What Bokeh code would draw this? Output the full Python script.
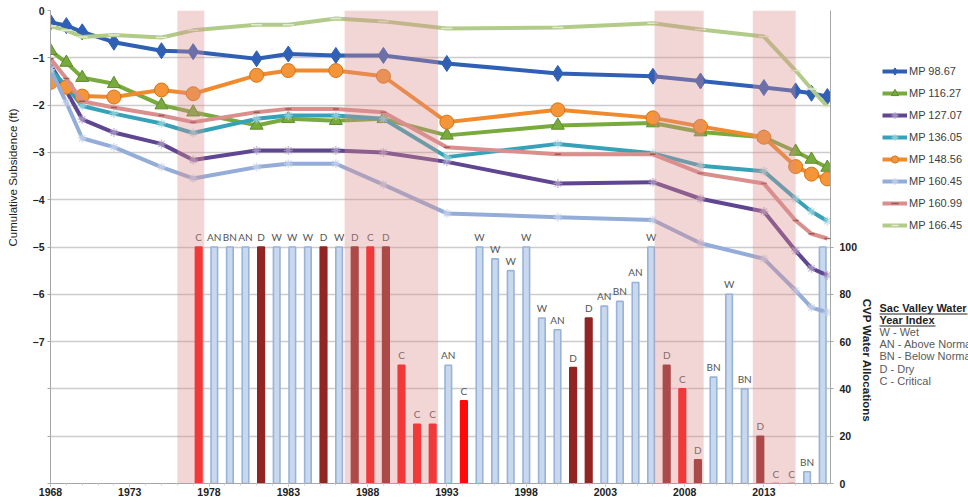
import numpy as np
from bokeh.plotting import figure
from bokeh.layouts import row
from bokeh.models import (Range1d, LinearAxis, FixedTicker, Legend, LegendItem,
                          Label, ColumnDataSource)
from bokeh.core.properties import value
from bokeh.embed import file_html
from bokeh.resources import INLINE

# ---------------- data ----------------
survey_years = [1968, 1969, 1970, 1972, 1975, 1977, 1981, 1983, 1986, 1989,
                1993, 2000, 2006, 2009, 2013, 2015, 2016, 2017]

mp_98_67 = [-0.25, -0.32, -0.45, -0.67, -0.85, -0.87, -1.02, -0.92, -0.95, -0.95,
            -1.12, -1.33, -1.39, -1.49, -1.63, -1.70, -1.75, -1.82]
mp_116_27 = [-0.85, -1.10, -1.42, -1.55, -2.00, -2.15, -2.43, -2.29, -2.33, -2.29,
             -2.64, -2.43, -2.38, -2.57, -2.68, -2.98, -3.15, -3.32]
mp_127_07 = [-1.15, -1.70, -2.30, -2.58, -2.82, -3.16, -2.96, -2.96, -2.96, -3.00,
             -3.20, -3.66, -3.63, -3.98, -4.25, -5.08, -5.45, -5.60]
mp_136_05 = [-1.25, -1.60, -2.02, -2.18, -2.39, -2.59, -2.29, -2.22, -2.22, -2.29,
             -3.10, -2.82, -3.02, -3.28, -3.40, -3.98, -4.25, -4.45]
mp_148_56 = [-1.52, -1.62, -1.81, -1.83, -1.68, -1.76, -1.37, -1.27, -1.27, -1.39,
             -2.36, -2.10, -2.27, -2.45, -2.68, -3.30, -3.46, -3.56]
mp_160_45 = [-1.25, -1.95, -2.70, -2.89, -3.31, -3.55, -3.31, -3.24, -3.24, -3.68,
             -4.29, -4.37, -4.43, -4.92, -5.25, -5.92, -6.28, -6.38]
mp_160_99 = [-1.02, -1.44, -1.92, -2.05, -2.22, -2.36, -2.15, -2.08, -2.08, -2.15,
             -2.89, -3.04, -3.04, -3.44, -3.66, -4.44, -4.72, -4.82]
mp_166_45 = [-0.33, -0.42, -0.56, -0.52, -0.57, -0.42, -0.30, -0.30, -0.17, -0.23,
             -0.38, -0.36, -0.27, -0.40, -0.55, -1.27, -1.66, -2.03]

series_names = ["MP 98.67", "MP 116.27", "MP 127.07", "MP 136.05",
                "MP 148.56", "MP 160.45", "MP 160.99", "MP 166.45"]
series_values = [mp_98_67, mp_116_27, mp_127_07, mp_136_05,
                 mp_148_56, mp_160_45, mp_160_99, mp_166_45]

alloc_years = list(range(1977, 2018))
alloc_pct = [100, 100, 100, 100, 100, 100, 100, 100, 100, 100, 100, 100, 100,
             50, 25, 25, 50, 35,
             100, 95, 90, 100, 70, 65, 49, 70, 75, 77, 85, 100,
             50, 40, 10, 45, 80, 40, 20, 0, 0, 5, 100]
year_type = ["C", "AN", "BN", "AN", "D", "W", "W", "W", "D", "W", "D", "C", "D",
             "C", "C", "C", "AN", "C",
             "W", "W", "W", "W", "W", "AN", "D", "D", "AN", "BN", "AN", "W",
             "D", "C", "D", "BN", "W", "BN", "D", "C", "C", "BN", ""]

drought_start = [1976.0, 1986.55, 2006.1, 2012.3]
drought_end = [1977.7, 1992.45, 2009.2, 2015.0]

x_ticks = [1968, 1973, 1978, 1983, 1988, 1993, 1998, 2003, 2008, 2013]
left_ticks = [0, -1, -2, -3, -4, -5, -6, -7, -8, -9, -10]
right_ticks = [0, 20, 40, 60, 80, 100]
index_title = ["Sac Valley Water", "Year Index"]
index_lines = ["W - Wet", "AN - Above Normal", "BN - Below Normal", "D - Dry", "C - Critical"]

# ---------------- layout constants (page pixels) ----------------
H = 503
WL = 20                 # left strip holding the left axis title
WP = 840                # main figure
W2 = 968 - WL - WP      # right strip: right-axis title, legend, index text
F_LEFT, F_RIGHT, F_TOP, F_BOTTOM = 50, 833, 10, 483
FONT = "Liberation Sans"
AX = "#a6a6a6"

# ---------------- main figure ----------------
p = figure(width=WP, height=H, output_backend="svg", toolbar_location=None,
           x_range=Range1d(1968, 2017.2), y_range=Range1d(-10, 0),
           min_border_left=F_LEFT - WL, min_border_right=WL + WP - F_RIGHT,
           min_border_top=F_TOP, min_border_bottom=H - F_BOTTOM)
p.extra_x_ranges = {"cat": Range1d(1967.5, 2017.5)}
p.extra_y_ranges = {"alloc": Range1d(0, 200)}
p.outline_line_color = None
p.background_fill_color = "white"
p.border_fill_color = "white"

def style_axis(a):
    a.axis_line_color = AX
    a.major_tick_line_color = AX
    a.major_tick_out = 3
    a.major_tick_in = 0
    a.major_label_text_font = FONT
    a.major_label_text_font_style = "bold"
    a.major_label_text_font_size = "10.5px"
    a.major_label_text_color = "#222222"

xa = p.xaxis[0]
style_axis(xa)
xa.ticker = FixedTicker(ticks=x_ticks, minor_ticks=list(range(1968, 2018)))
xa.minor_tick_line_color = "#d0d0d0"
xa.minor_tick_out = 2
xa.minor_tick_in = 0
xa.major_label_standoff = 1

ya = p.yaxis[0]
style_axis(ya)
ya.ticker = FixedTicker(ticks=left_ticks)
ya.major_label_overrides = {-8: "", -9: "", -10: ""}
ya.minor_tick_line_color = None
ya.major_label_standoff = 3

ra = LinearAxis(y_range_name="alloc", ticker=FixedTicker(ticks=right_ticks))
style_axis(ra)
ra.minor_tick_line_color = None
ra.major_label_standoff = 6
p.add_layout(ra, "right")

p.xgrid.visible = False
p.ygrid.ticker = FixedTicker(ticks=left_ticks)
p.ygrid.grid_line_color = "#cccccc"
p.ygrid.grid_line_width = 1.5

# bars (CVP allocations, secondary axes)
BLUE_FILL, BLUE_LINE = "#c9d8ec", "#97b3da"
type_fill = {"W": BLUE_FILL, "AN": BLUE_FILL, "BN": BLUE_FILL, "": BLUE_FILL,
             "D": "#922424", "C": "#ff0a0a"}
type_line = {"W": BLUE_LINE, "AN": BLUE_LINE, "BN": BLUE_LINE, "": BLUE_LINE,
             "D": "#922424", "C": "#ff0a0a"}
bar_src = ColumnDataSource(dict(
    x=alloc_years, top=alloc_pct, label=year_type,
    fill=[type_fill[t] for t in year_type],
    line=[type_line[t] for t in year_type],
))
p.vbar(x="x", top="top", bottom=0, width=0.42, source=bar_src,
       x_range_name="cat", y_range_name="alloc",
       fill_color="fill", line_color="line", line_width=1.6)
p.text(x="x", y="top", text="label", source=bar_src,
       x_range_name="cat", y_range_name="alloc",
       text_align="center", text_baseline="bottom", y_offset=-4,
       text_font=value("Lato"), text_font_size="10px", text_color="#555555")

# subsidence lines
styles = [
    dict(color="#2f60b6", marker="diamond", size=16, mfill="#2f60b6", mline="#2f60b6", malpha=1.0),
    dict(color="#79aa3d", marker="triangle", size=13, mfill="#79aa3d", mline="#5f8c2a", malpha=1.0),
    dict(color="#604690", marker="asterisk", size=9, mfill=None, mline="#b5a8d0", malpha=0.7),
    dict(color="#35a2b8", marker="asterisk", size=9, mfill=None, mline="#a8d8e2", malpha=0.7),
    dict(color="#f08a2c", marker="circle", size=14, mfill="#f39538", mline="#d77419", malpha=1.0),
    dict(color="#94acd8", marker="asterisk", size=9, mfill=None, mline="#c9d6ee", malpha=0.7),
    dict(color="#da8f8d", marker="dash", size=6, mfill=None, mline="#8c4a48", malpha=0.8),
    dict(color="#b2cb88", marker="dash", size=11, mfill=None, mline="#e2ebd0", malpha=1.0),
]

for vals, st in zip(series_values, styles):
    p.line(survey_years, vals, line_width=4, line_color=st["color"], line_join="round")
    p.scatter(survey_years, vals, marker=st["marker"], size=st["size"],
              fill_color=st["mfill"], line_color=st["mline"],
              line_width=1.5 if st["marker"] in ("asterisk", "dash") else 1,
              alpha=st["malpha"])

# drought-period shading laid over everything
p.quad(left=drought_start, right=drought_end, bottom=-10, top=0,
       fill_color="#da8c8c", fill_alpha=0.36, line_color=None)

# ---------------- side strips (frames are aligned with the main frame) ----------------
pl = figure(width=WL, height=H, output_backend="svg", toolbar_location=None,
            x_range=Range1d(0, WL), y_range=Range1d(F_BOTTOM, F_TOP),
            x_axis_type=None, y_axis_type=None, min_border=0)
pl.outline_line_color = None
pl.add_layout(Label(x=12, y=177, text="Cumulative Subsidence (ft)",
                    angle=np.pi / 2, text_align="center", text_baseline="middle",
                    text_font=FONT, text_font_size="11.5px", text_color="#222222"))

X2 = WL + WP
p2 = figure(width=W2, height=H, output_backend="svg", toolbar_location=None,
            x_range=Range1d(X2, 968), y_range=Range1d(F_BOTTOM, F_TOP),
            x_axis_type=None, y_axis_type=None, min_border=0)
p2.outline_line_color = None

p2.add_layout(Label(x=866, y=360, text="CVP Water Allocations",
                    angle=-np.pi / 2, text_align="center", text_baseline="middle",
                    text_font=FONT, text_font_style="bold",
                    text_font_size="11.5px", text_color="#222222"))

# legend proxies: first points of each series, far outside this strip's ranges
items = []
for name, vals, st in zip(series_names, series_values, styles):
    lr = p2.line(x=survey_years[:2], y=vals[:2], line_width=4, line_color=st["color"])
    sr = p2.scatter(x=survey_years[:1], y=vals[:1], marker=st["marker"],
                    size=st["size"] * 0.85,
                    fill_color=st["mfill"], line_color=st["mline"],
                    line_width=1.5 if st["marker"] in ("asterisk", "dash") else 1,
                    alpha=st["malpha"])
    items.append(LegendItem(label=name, renderers=[lr, sr]))

legend = Legend(items=items, location=(882 - X2, F_BOTTOM - 234), orientation="vertical",
                padding=0, margin=0, spacing=4, glyph_width=25, glyph_height=18,
                label_height=18, label_standoff=2,
                label_text_font=FONT, label_text_font_size="11px",
                label_text_color="#404040",
                background_fill_alpha=0, border_line_color=None)
p2.add_layout(legend, "center")

TX = 879
title_widths = [88, 56]
for i, t in enumerate(index_title):
    yy = 307 + 12 * i
    p2.add_layout(Label(x=TX, y=yy, text=t, text_align="left", text_baseline="middle",
                        text_font=FONT, text_font_style="bold",
                        text_font_size="11px", text_color="#222222"))
    p2.segment(x0=TX, y0=yy + 6.5, x1=TX + title_widths[i], y1=yy + 6.5,
               line_color="#222222", line_width=1)
for i, t in enumerate(index_lines):
    p2.add_layout(Label(x=TX, y=331 + 12.4 * i, text=t,
                        text_align="left", text_baseline="middle",
                        text_font=FONT, text_font_size="11px", text_color="#5a5a5a"))

layout = row(pl, p, p2)
open("out.html", "w").write(file_html(layout, INLINE))
